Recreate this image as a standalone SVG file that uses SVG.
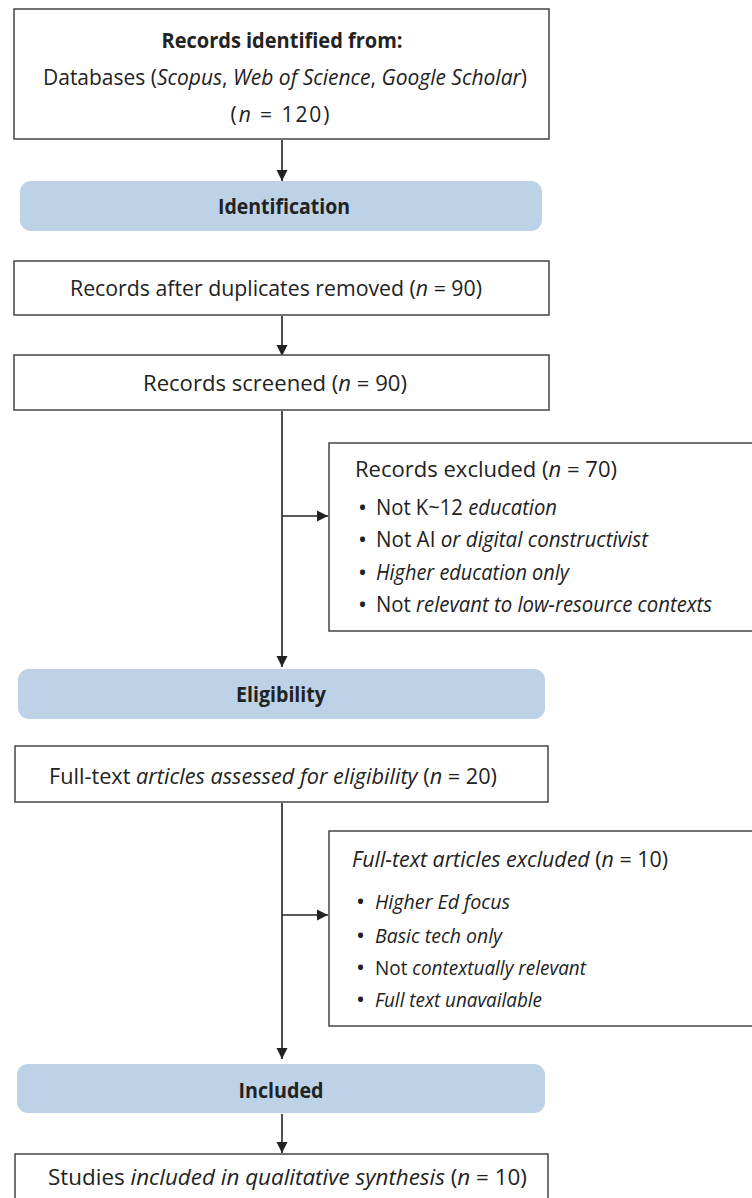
<svg xmlns="http://www.w3.org/2000/svg" width="752" height="1198" viewBox="0 0 752 1198">
<style>
text{font-family:"Open Sans","Liberation Sans",sans-serif;fill:#222;font-size:21px}
.c{text-anchor:middle}
.b{font-weight:bold;font-size:21px}
.i{font-style:italic}
.bu{font-size:24px}
.s{font-size:20.5px}
.box{fill:#fff;stroke:#444;stroke-width:1.5}
.band{fill:#bdd2e6}
.ln{stroke:#222;stroke-width:1.6;fill:none}
</style>
<defs>
<marker id="ah" viewBox="0 0 10 10" refX="10" refY="5" markerWidth="11" markerHeight="12" orient="auto" markerUnits="userSpaceOnUse"><path d="M0,0 L10,5 L0,10 z" fill="#222"/></marker>
</defs>
<rect width="752" height="1198" fill="#fff"/>
<g id="connectors">
<line class="ln" x1="282" y1="140" x2="282" y2="181" marker-end="url(#ah)"/>
<line class="ln" x1="282" y1="316" x2="282" y2="356" marker-end="url(#ah)"/>
<line class="ln" x1="282" y1="411" x2="282" y2="667" marker-end="url(#ah)"/>
<line class="ln" x1="282" y1="516" x2="328" y2="516" marker-end="url(#ah)"/>
<line class="ln" x1="282" y1="803" x2="282" y2="1059" marker-end="url(#ah)"/>
<line class="ln" x1="282" y1="915" x2="328" y2="915" marker-end="url(#ah)"/>
<line class="ln" x1="282" y1="1114" x2="282" y2="1153" marker-end="url(#ah)"/>
</g>
<g id="records-identified">
<rect class="box" x="14" y="9" width="535" height="130"/>
<text class="c b" x="282" y="48" textLength="241" lengthAdjust="spacingAndGlyphs">Records identified from:</text>
<text class="c" x="285" y="85" textLength="484" lengthAdjust="spacingAndGlyphs">Databases (<tspan class="i">Scopus</tspan>, <tspan class="i">Web of Science</tspan>, <tspan class="i">Google Scholar</tspan>)</text>
<text class="c" x="280" y="122" textLength="99">(<tspan class="i">n</tspan> = 120)</text>
</g>
<g id="identification">
<rect class="band" x="20" y="181" width="522" height="50" rx="11"/>
<text class="c b" x="284" y="214" textLength="132" lengthAdjust="spacingAndGlyphs">Identification</text>
</g>
<g id="duplicates-removed">
<rect class="box" x="14" y="261" width="535" height="54"/>
<text class="c" x="276" y="296" textLength="412" lengthAdjust="spacingAndGlyphs">Records after duplicates removed (<tspan class="i">n</tspan> = 90)</text>
</g>
<g id="records-screened">
<rect class="box" x="14" y="355" width="535" height="55"/>
<text class="c" x="275" y="391" textLength="264" lengthAdjust="spacingAndGlyphs">Records screened (<tspan class="i">n</tspan> = 90)</text>
</g>
<g id="records-excluded">
<rect class="box" x="329" y="443" width="430" height="188"/>
<text x="355" y="477" textLength="262" lengthAdjust="spacingAndGlyphs">Records excluded (<tspan class="i">n</tspan> = 70)</text>
<text class="bu" x="358" y="516">•</text><text x="376" y="515" textLength="181" lengthAdjust="spacingAndGlyphs">Not K~12 <tspan class="i">education</tspan></text>
<text class="bu" x="358" y="548">•</text><text x="376" y="547" textLength="272" lengthAdjust="spacingAndGlyphs">Not AI <tspan class="i">or digital constructivist</tspan></text>
<text class="bu" x="358" y="581">•</text><text x="376" y="580" class="i" textLength="193" lengthAdjust="spacingAndGlyphs">Higher education only</text>
<text class="bu" x="358" y="613">•</text><text x="376" y="612" textLength="336" lengthAdjust="spacingAndGlyphs">Not <tspan class="i">relevant to low-resource contexts</tspan></text>
</g>
<g id="eligibility">
<rect class="band" x="18" y="669" width="527" height="50" rx="11"/>
<text class="c b" x="281" y="702" textLength="90" lengthAdjust="spacingAndGlyphs">Eligibility</text>
</g>
<g id="full-text-assessed">
<rect class="box" x="15" y="746" width="533" height="56"/>
<text x="49" y="784" textLength="448" lengthAdjust="spacingAndGlyphs">Full-text <tspan class="i">articles assessed for eligibility</tspan> (<tspan class="i">n</tspan> = 20)</text>
</g>
<g id="full-text-excluded">
<rect class="box" x="329" y="831" width="430" height="195"/>
<text x="352" y="867" textLength="316" lengthAdjust="spacingAndGlyphs"><tspan class="i">Full-text articles excluded</tspan> (<tspan class="i">n</tspan> = 10)</text>
<text class="bu" x="356" y="910">•</text><text class="s i" x="375" y="909" textLength="135" lengthAdjust="spacingAndGlyphs">Higher Ed focus</text>
<text class="bu" x="356" y="944">•</text><text class="s i" x="375" y="943" textLength="127" lengthAdjust="spacingAndGlyphs">Basic tech only</text>
<text class="bu" x="356" y="976">•</text><text class="s" x="375" y="975" textLength="211" lengthAdjust="spacingAndGlyphs">Not <tspan class="i">contextually relevant</tspan></text>
<text class="bu" x="356" y="1008">•</text><text class="s i" x="375" y="1007" textLength="167" lengthAdjust="spacingAndGlyphs">Full text unavailable</text>
</g>
<g id="included">
<rect class="band" x="17" y="1064" width="528" height="49" rx="11"/>
<text class="c b" x="281" y="1098" textLength="85" lengthAdjust="spacingAndGlyphs">Included</text>
</g>
<g id="studies-included">
<rect class="box" x="15" y="1154" width="533" height="60"/>
<text x="48" y="1185" textLength="479" lengthAdjust="spacingAndGlyphs">Studies <tspan class="i">included in qualitative synthesis</tspan> (<tspan class="i">n</tspan> = 10)</text>
</g>
</svg>
